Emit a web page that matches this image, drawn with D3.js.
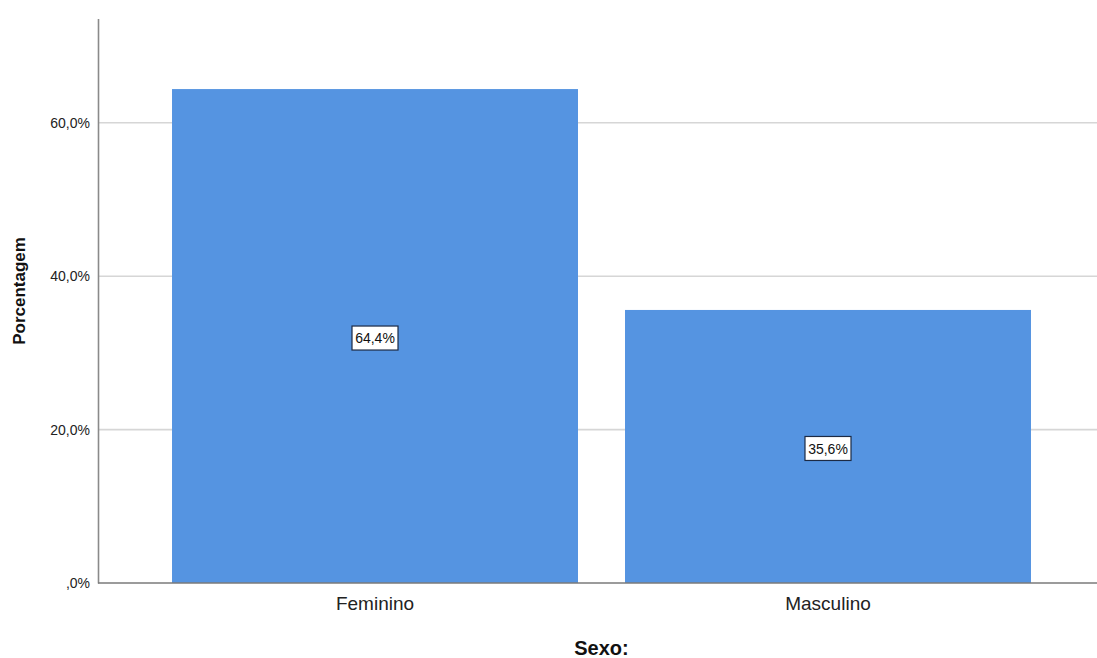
<!DOCTYPE html>
<html>
<head>
<meta charset="utf-8">
<script src="https://cdn.jsdelivr.net/npm/d3@7"></script>
<style>
  html, body { margin: 0; padding: 0; background: #fff; }
  svg { display: block; font-family: "Liberation Sans", Arial, sans-serif; }
</style>
</head>
<body>
<svg id="chart" width="1097" height="658"></svg>
<script>
// Distribuição por sexo (percentual)
const categories = ["Feminino", "Masculino"];
const percentages = [64.4, 35.6];
const tickValues = [0, 20, 40, 60];
const yMax = 73.6;

const svg = d3.select("#chart");
const plotLeft = 98, plotRight = 1105, plotTop = 18.5, plotBottom = 583;

const x = d3.scaleBand()
  .domain(categories)
  .range([plotLeft, plotRight])
  .paddingInner(0.1038)
  .paddingOuter(0.1634);

const y = d3.scaleLinear().domain([0, yMax]).range([plotBottom, plotTop]);

const fmt = v => (v === 0 ? ",0%" : d3.format(".1f")(v).replace(".", ",") + "%");

// Linhas de grade horizontais
svg.append("g")
  .selectAll("line")
  .data(tickValues.filter(d => d > 0))
  .join("line")
  .attr("x1", plotLeft).attr("x2", 1097)
  .attr("y1", d => y(d)).attr("y2", d => y(d))
  .attr("stroke", "#d6d6d6").attr("stroke-width", 1.6);

// Barras
svg.append("g")
  .selectAll("rect")
  .data(categories)
  .join("rect")
  .attr("x", d => x(d))
  .attr("width", x.bandwidth())
  .attr("y", (d, i) => y(percentages[i]))
  .attr("height", (d, i) => plotBottom - y(percentages[i]))
  .attr("fill", "#5594E1");

// Eixo Y
const yAxis = svg.append("g")
  .attr("transform", `translate(${plotLeft},0)`)
  .call(d3.axisLeft(y).tickValues(tickValues).tickFormat(fmt).tickSize(0).tickPadding(8));
yAxis.select(".domain").attr("stroke", "#8a8a8a").attr("stroke-width", 1.6);
yAxis.selectAll("text")
  .attr("font-size", 14).attr("fill", "#222")
  .attr("font-family", "Liberation Sans, Arial, sans-serif");

// Eixo X
const xAxis = svg.append("g")
  .attr("transform", `translate(0,${plotBottom})`)
  .call(d3.axisBottom(x).tickSize(0).tickPadding(14));
xAxis.select(".domain").attr("d", `M${plotLeft},0H1097`).attr("stroke", "#7a7a7a").attr("stroke-width", 1.6);
xAxis.selectAll("text")
  .attr("font-size", 19).attr("fill", "#222")
  .attr("font-family", "Liberation Sans, Arial, sans-serif");

// Rótulos de valor no centro das barras
const labels = svg.append("g")
  .selectAll("g")
  .data(categories)
  .join("g")
  .attr("transform", (d, i) => `translate(${x(d) + x.bandwidth() / 2},${y(percentages[i] / 2) + 2})`);

labels.append("rect")
  .attr("x", -23).attr("y", -12).attr("width", 46).attr("height", 24)
  .attr("fill", "#fff").attr("stroke", "#1c2a44").attr("stroke-width", 1.2);

labels.append("text")
  .attr("text-anchor", "middle")
  .attr("dy", "0.36em")
  .attr("font-size", 14)
  .attr("fill", "#111")
  .text((d, i) => fmt(percentages[i]));

// Títulos dos eixos
svg.append("text")
  .attr("transform", "translate(25,291) rotate(-90)")
  .attr("text-anchor", "middle")
  .attr("font-size", 17).attr("font-weight", "bold").attr("fill", "#111")
  .text("Porcentagem");

svg.append("text")
  .attr("x", (plotLeft + plotRight) / 2).attr("y", 655)
  .attr("text-anchor", "middle")
  .attr("font-size", 20).attr("font-weight", "bold").attr("fill", "#111")
  .text("Sexo:");
</script>
</body>
</html>
